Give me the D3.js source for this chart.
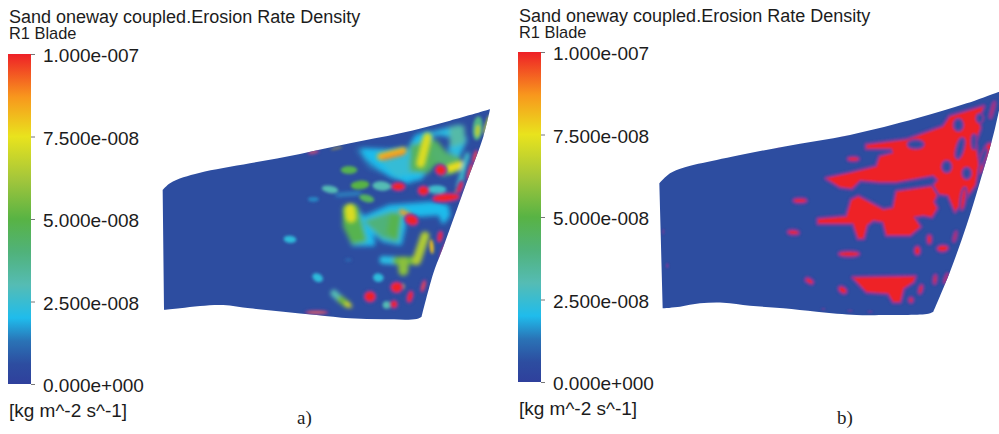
<!DOCTYPE html>
<html>
<head>
<meta charset="utf-8">
<script src="https://cdn.jsdelivr.net/npm/d3@7"></script>
<style>
  html, body { margin: 0; padding: 0; background: #fff; }
  text { font-family: "Liberation Sans", Arial, sans-serif; fill: #1c1c1c; }
</style>
</head>
<body>
<div id="chart"></div>
<script>
// colour legend, values in units of 1e-8 kg m^-2 s^-1
var legendTicks = [0, 2.5, 5, 7.5, 10];
var legendLabels = ['0.000e+000', '2.500e-008', '5.000e-008', '7.500e-008', '1.000e-007'];
var colorValues = [0, 0.6, 1.3, 2, 3, 4, 5, 6.2, 7.5, 8.7, 10];
var colorNames = ['#2f409c', '#2d4da0', '#2a73b6', '#1fbcec', '#55bcb4', '#50b27a', '#58b344', '#a3c63b', '#e9e31d', '#f8971d', '#ee2027'];

// blade outlines, read in crop units of each panel
var bladeTopA = [[38,270],[60,250],[100,232],[150,218],[300,190],[450,162],[600,130],[750,100],[900,62],[1020,28]];
var bladeRightA = [[1020,28],[1000,110],[960,220],[920,330],[880,440],[850,520],[815,650]];
var bladeBottomA = [[815,650],[800,657],[700,658],[600,655],[500,645],[400,635],[300,625],[220,615],[150,618],[90,625],[42,630]];
var bladeTopB = [[28,295],[60,265],[100,248],[200,225],[400,185],[600,150],[800,100],[950,55],[1060,15]];
var bladeRightB = [[1060,15],[1030,150],[990,290],[950,420],[900,560],[850,680]];
var bladeBottomB = [[850,680],[835,686],[700,690],[620,690],[500,680],[400,670],[300,662],[220,653],[150,655],[90,665],[38,670]];

// panel a: broad patches, drawn first and heavily softened
var patchValuesA = [1.3, 2.0, 2.4, 2.0, 4.4, 4.2, 2.2, 3.2, 4.8, 4.0, 4.8, 2.0];
var patchPointsA = [
  [[625,150],[700,150],[700,215],[660,200]],
  [[640,150],[700,155],[760,150],[800,235],[770,245],[720,225],[680,195],[650,170]],
  [[700,185],[770,175],[790,215],[740,225]],
  [[800,110],[835,100],[850,150],[840,195],[810,235],[780,235],[770,160]],
  [[785,140],[855,125],[885,160],[830,215],[785,210]],
  [[850,150],[925,175],[930,205],[880,222],[870,190]],
  [[835,105],[925,80],[945,120],[925,165],[900,150],[915,110],[870,100]],
  [[905,85],[937,82],[940,125],[905,135]],
  [[585,325],[618,322],[632,375],[645,420],[610,428],[585,378]],
  [[650,365],[725,340],[750,345],[740,420],[700,410]],
  [[725,345],[750,345],[740,415],[715,395]],
  [[585,330],[610,320],[640,355],[720,320],[860,310],[890,320],[895,345],[880,365],[870,340],[800,345],[770,340],[750,430],[700,420],[660,385],[670,432],[610,432],[590,380]]
];
var patchOrderA = [0, 1, 3, 6, 2, 11, 7, 4, 5, 9, 10, 8];

// panel a: streaks
var streakValuesA = [7.6, 7.2, 8.2, 8.8, 2.6, 2.2, 5.2, 6.4, 3, 5.4, 7.2, 7.2, 2.2, 8.5, 5.8];
var streakWidthsA = [8, 9, 7, 4, 5, 8, 8, 9, 7, 7, 4, 11, 2, 5, 10];
var streakPointsA = [
  [[900,205],[930,195]],
  [[832,112],[812,190]],
  [[692,170],[760,152]],
  [[700,175],[760,160]],
  [[952,165],[927,258]],
  [[700,480],[740,482]],
  [[740,482],[795,482]],
  [[800,482],[825,408]],
  [[552,580],[572,598]],
  [[572,598],[590,612]],
  [[590,612],[600,618]],
  [[600,328],[603,352]],
  [[560,285],[630,280]],
  [[755,335],[775,345]],
  [[760,485],[760,512]]
];

// panel a: hotspots [x, y, rx, ry, angle, value]
var spotsA = [
  [490,298,16,7,0,1.5],[595,480,10,5,0,1.1],
  [420,418,19,11,5,2.3],[503,533,17,12,30,2.3],[685,533,16,13,10,2.3],
  [540,268,25,11,10,3],[695,258,28,14,5,3],[860,268,29,12,0,2.6],
  [597,210,25,12,0,4.8],[630,255,28,13,-5,5],[650,295,23,11,15,4.5],
  [983,85,15,36,5,3.8],[983,92,7,18,5,6.5],[710,615,12,11,0,3],[1010,75,4,30,15,7],
  [845,440,6,22,-5,8],
  [745,260,18,10,0,10],[820,272,14,12,0,10],[872,210,14,13,20,10],
  [660,590,15,14,0,10],[740,562,16,14,0,10],[755,560,9,10,0,8],[732,613,8,9,0,10],
  [780,590,6,15,15,10],[820,558,3,15,15,9.5],[870,410,5,14,10,10],[885,455,7,26,20,10],
  [930,345,3,15,15,9.5],[960,215,3,23,15,9.5],[975,170,3,17,15,9.5],
  [785,360,18,13,25,10],[888,293,38,10,-5,10],[925,270,8,30,20,8.5],[930,262,4,16,20,10],
  [490,156,12,1.5,-10,9],[500,637,30,2,0,9],[560,145,18,1.5,-12,8]
];

// panel b: red patches
var redPatchesB = [
  [[650,180],[770,165],[880,125],[900,95],[1000,65],[985,100],[990,130],[975,170],[985,240],[975,300],[945,340],[915,378],[895,330],[860,325],[845,310],[865,285],[850,270],[740,290],[690,290],[630,285],[605,310],[570,305],[530,280],[600,265],[680,245],[690,215],[730,205],[725,190],[650,190]],
  [[505,403],[590,395],[605,345],[625,335],[700,375],[730,370],[740,320],[845,305],[860,330],[850,350],[860,370],[845,395],[820,390],[790,395],[810,425],[780,450],[710,450],[700,410],[670,405],[650,420],[640,460],[625,460],[610,415],[505,415]],
  [[610,578],[795,575],[790,590],[760,610],[750,650],[730,650],[715,625],[650,620]]
];
// panel b: small red spots [x, y, rx, ry, angle]
var redSpotsB = [
  [450,347,17,4,0],[610,222,14,4,0],[430,442,14,4,5],[597,507,28,5,0],[478,588,10,4,30],[578,615,11,6,35],
  [838,463,4,11,0],[802,497,6,10,0],[878,490,14,7,-5],[1010,205,9,30,20],[855,583,2,11,5],[812,613,3,11,15],
  [783,645,4,5,0],[940,342,4,30,8],[915,455,1,13,15],[888,580,1,12,20],[1027,75,1,22,15],[995,245,2,18,15]
];
// panel b: blue holes inside the red patches
var holesB = [
  [925,120,10,14,0],[797,178,20,9,0],[930,190,7,28,15],[972,170,4,18,0],[890,245,10,13,0],[950,265,9,13,0],[990,100,7,10,0],[1000,215,4,22,20]
];
// panel b: faint marks on the blade edge
var edgeMarksB = [[52,542,3,7,0],[40,440,2,8,0],[520,672,6,2,0],[600,677,8,2,0],[660,680,8,2,0],[385,187,8,1.5,-10],[580,150,12,1.5,-10]];

var width = 999;
var height = 434;

var svg = d3.select('#chart').append('svg')
  .attr('width', width)
  .attr('height', height)
  .style('display', 'block');

var defs = svg.append('defs');

var color = d3.scaleLinear().domain(colorValues).range(colorNames);

// gradient for both colour bars
var grad = defs.append('linearGradient')
  .attr('id', 'legendGrad')
  .attr('x1', 0).attr('y1', 1).attr('x2', 0).attr('y2', 0);
grad.selectAll('stop')
  .data(colorValues)
  .enter()
  .append('stop')
  .attr('offset', (d) => d / 10)
  .attr('stop-color', (d) => color(d));

var addBlur = function(id, amount) {
  defs.append('filter').attr('id', id)
    .attr('x', '-10%').attr('y', '-10%').attr('width', '120%').attr('height', '120%')
    .append('feGaussianBlur').attr('stdDeviation', amount);
};
addBlur('softPatch', 2.6);
addBlur('softStreak', 2.0);
addBlur('softSpot', 1.6);
addBlur('softRed', 1.0);

var panels = [
  {id: 'a', x0: 8, titleY: 23, subY: 39, top: 54, bottom: 384, unitY: 417, tag: 'a)', tagX: 297, tagY: 424,
   x: d3.scaleLinear().domain([0, 1050]).range([150, 500]),
   y: d3.scaleLinear().domain([0, 690]).range([100, 330]),
   blade: [bladeTopA, bladeRightA, bladeBottomA]},
  {id: 'b', x0: 518, titleY: 21.5, subY: 37.5, top: 52, bottom: 382, unitY: 415, tag: 'b)', tagX: 837, tagY: 424,
   x: d3.scaleLinear().domain([0, 1047]).range([650, 999]),
   y: d3.scaleLinear().domain([0, 735]).range([85, 330]),
   blade: [bladeTopB, bladeRightB, bladeBottomB]}
];

var drawLegend = function(p) {
  var g = svg.append('g');

  g.append('text').attr('x', p.x0 + 1).attr('y', p.titleY)
    .style('font-size', '18px')
    .text('Sand oneway coupled.Erosion Rate Density');
  g.append('text').attr('x', p.x0 + 1).attr('y', p.subY)
    .style('font-size', '16.4px')
    .text('R1 Blade');

  var scale = d3.scaleLinear().domain([0, 10]).range([p.bottom, p.top]);

  g.append('rect')
    .attr('x', p.x0).attr('y', p.top)
    .attr('width', 23).attr('height', p.bottom - p.top)
    .attr('fill', 'url(#legendGrad)');

  var axis = d3.axisRight(scale)
    .tickValues(legendTicks)
    .tickFormat((d, i) => legendLabels[i])
    .tickSize(4)
    .tickPadding(8);

  var ag = g.append('g')
    .attr('transform', 'translate(' + (p.x0 + 23) + ',0)')
    .call(axis);
  ag.select('.domain').remove();
  ag.selectAll('line').attr('stroke', '#777');
  ag.selectAll('text').style('font-size', '19px').attr('dy', '0.42em');

  g.append('text').attr('x', p.x0 + 1).attr('y', p.unitY)
    .style('font-size', '19px')
    .text('[kg m^-2 s^-1]');

  g.append('text').attr('x', p.tagX).attr('y', p.tagY)
    .style('font-family', '"Liberation Serif", serif')
    .style('font-size', '19px')
    .text(p.tag);
};

var drawBlade = function(p) {
  var edge = d3.line().x((d) => p.x(d[0])).y((d) => p.y(d[1])).curve(d3.curveCatmullRom);
  var outline = p.blade.map((part, i) => i === 0 ? edge(part) : edge(part).replace('M', 'L')).join('') + 'Z';

  defs.append('clipPath').attr('id', 'clip' + p.id).append('path').attr('d', outline);

  svg.append('path')
    .attr('d', outline)
    .attr('fill', '#2d4da0');

  return svg.append('g').attr('clip-path', 'url(#clip' + p.id + ')');
};

var drawEllipses = function(g, p, rows) {
  return g.selectAll(null)
    .data(rows)
    .enter()
    .append('ellipse')
    .attr('transform', (d) => 'translate(' + p.x(d[0]) + ',' + p.y(d[1]) + ') rotate(' + d[4] + ')')
    .attr('rx', (d) => p.x(d[2]) - p.x(0))
    .attr('ry', (d) => p.y(d[3]) - p.y(0));
};

var drawPanelA = function(p, clip) {
  var line = d3.line().x((d) => p.x(d[0])).y((d) => p.y(d[1]));
  var g = clip.append('g').attr('filter', 'url(#softPatch)');

  g.selectAll(null)
    .data(patchOrderA)
    .enter()
    .append('path')
    .attr('d', (i) => line(patchPointsA[i]) + 'Z')
    .attr('fill', (i) => color(patchValuesA[i]))
    .attr('stroke', (i) => color(patchValuesA[i]))
    .attr('stroke-width', 4)
    .attr('stroke-linejoin', 'round');

  var t = clip.append('g').attr('filter', 'url(#softStreak)');

  t.selectAll(null)
    .data(streakPointsA)
    .enter()
    .append('path')
    .attr('d', (d) => line(d))
    .attr('fill', 'none')
    .attr('stroke-linecap', 'round')
    .attr('stroke-width', (d, i) => streakWidthsA[i])
    .attr('stroke', (d, i) => color(streakValuesA[i]));

  var s = clip.append('g').attr('filter', 'url(#softSpot)');

  drawEllipses(s, p, spotsA.slice().sort((a, b) => a[5] - b[5]))
    .attr('fill', (d) => color(d[5]))
    .attr('stroke', (d) => d[5] >= 9 ? '#7f3a98' : 'none')
    .attr('stroke-width', 4)
    .style('paint-order', 'stroke');
};

var drawPanelB = function(p, clip) {
  var line = d3.line().x((d) => p.x(d[0])).y((d) => p.y(d[1]));
  var g = clip.append('g').attr('filter', 'url(#softRed)');

  var redShape = function(sel) {
    sel.attr('fill', '#ee2027')
      .attr('stroke', '#7f3a98')
      .attr('stroke-linejoin', 'round')
      .attr('stroke-width', 5.5)
      .style('paint-order', 'stroke');
  };

  g.selectAll(null)
    .data(redPatchesB)
    .enter()
    .append('path')
    .attr('d', (d) => line(d) + 'Z')
    .call(redShape);

  drawEllipses(g, p, redSpotsB).call(redShape);

  drawEllipses(g, p, holesB)
    .attr('fill', '#2d4da0')
    .attr('stroke', '#7f3a98')
    .attr('stroke-width', 5)
    .style('paint-order', 'stroke');

  drawEllipses(g, p, edgeMarksB)
    .attr('fill', '#8d3596');
};

panels.forEach(function(p) {
  drawLegend(p);
  var clip = drawBlade(p);
  if (p.id === 'a') drawPanelA(p, clip);
  else drawPanelB(p, clip);
});
</script>
</body>
</html>
